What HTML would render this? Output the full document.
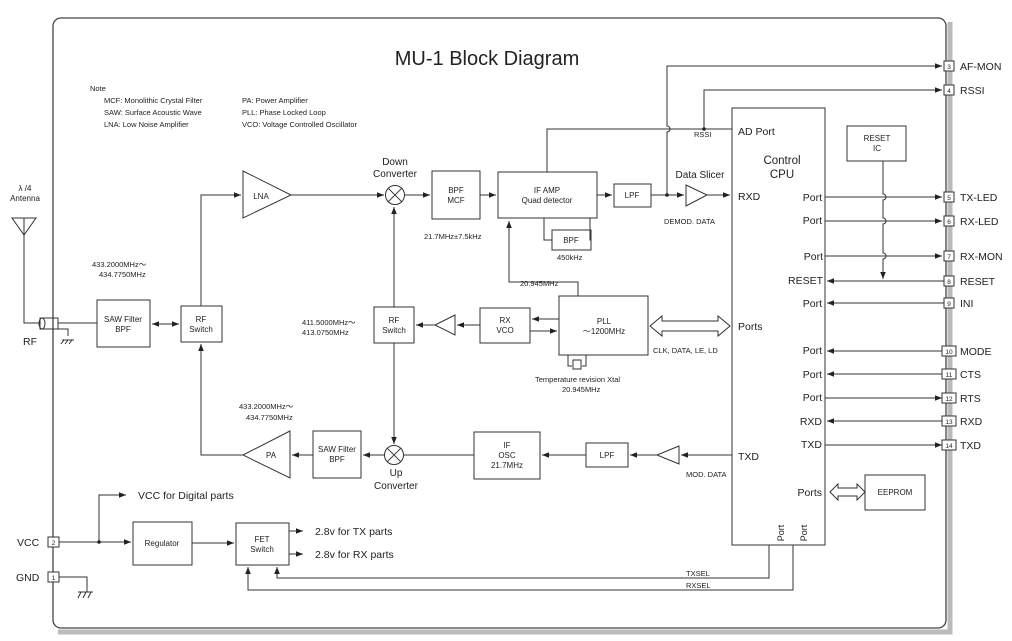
<!DOCTYPE html>
<html><head><meta charset="utf-8"><style>
html,body{margin:0;padding:0;background:#fff}
svg{display:block}
text{font-family:"Liberation Sans",sans-serif;fill:#222}
</style></head><body>
<svg width="1012" height="641" viewBox="0 0 1012 641" xmlns="http://www.w3.org/2000/svg">
<defs>
<marker id="a" viewBox="0 0 10 10" refX="10" refY="5" markerWidth="7" markerHeight="7" orient="auto-start-reverse"><path d="M0,1L10,5L0,9z" fill="#222"/></marker>
</defs>
<rect width="1012" height="641" fill="#fff"/>
<path d="M58,632 L950,632 L950,22" stroke="#bbb" stroke-width="5" fill="none"/>
<rect x="53" y="18" width="893" height="610" rx="8" fill="#fff" stroke="#444" stroke-width="1.3"/>
<g stroke="#333" stroke-width="1" fill="none">
<path d="M12,218 L36,218 L24,235 Z M24,218 V323 H40"/>
<rect x="40" y="318" width="18" height="11"/><ellipse cx="42" cy="323.5" rx="3" ry="5.5"/>
<path d="M58,323 H97 M58,329 H68 V336 M64,340 l-3,4 M68,340 l-3,4 M72,340 l-3,4 M62,340 H74"/>
<rect x="97" y="300" width="53" height="47"/>
<rect x="181" y="306" width="41" height="36"/>
<path d="M152,324 H179" marker-start="url(#a)" marker-end="url(#a)"/>
<path d="M201,306 V195 H241" marker-end="url(#a)"/>
<path d="M243,171 L291,195 L243,218 Z"/>
<path d="M291,195 H384" marker-end="url(#a)"/>
<circle cx="395" cy="195" r="9.5"/><path d="M388.3,188.3 l13.4,13.4 M401.7,188.3 l-13.4,13.4"/>
<path d="M405,195 H430" marker-end="url(#a)"/>
<rect x="432" y="171" width="48" height="48"/>
<path d="M480,195 H496" marker-end="url(#a)"/>
<rect x="498" y="172" width="99" height="46"/>
<path d="M544,218 V240 H552 M591,240 H590 V218"/>
<rect x="552" y="230" width="39" height="20"/>
<path d="M597,195 H612" marker-end="url(#a)"/>
<rect x="614" y="184" width="37" height="23"/>
<path d="M651,195 H684" marker-end="url(#a)"/>
<path d="M686,185 L707,195 L686,206 Z"/>
<path d="M707,195 H730" marker-end="url(#a)"/>
<path d="M667,195 V132 a3,3 0 0 0 0,-6 V66 H942" marker-end="url(#a)"/>
<path d="M547,172 V129 H732"/>
<path d="M704,129 V90 H942" marker-end="url(#a)"/>
<rect x="732" y="108" width="93" height="437"/>
<rect x="847" y="126" width="59" height="35"/>
<path d="M883,161 V194 a3,3 0 0 1 0,6 V218 a3,3 0 0 1 0,6 V253 a3,3 0 0 1 0,6 V279" marker-end="url(#a)"/>
<path d="M825,197 H942" marker-end="url(#a)"/>
<path d="M825,221 H942" marker-end="url(#a)"/>
<path d="M825,256 H942" marker-end="url(#a)"/>
<path d="M944,281 H827" marker-end="url(#a)"/>
<path d="M944,303 H827" marker-end="url(#a)"/>
<path d="M944,351 H827" marker-end="url(#a)"/>
<path d="M944,374 H827" marker-end="url(#a)"/>
<path d="M825,398 H942" marker-end="url(#a)"/>
<path d="M944,421 H827" marker-end="url(#a)"/>
<path d="M825,445 H942" marker-end="url(#a)"/>
<rect x="865" y="475" width="60" height="35"/>
<path d="M830,492 L838,484 V488 H857 V484 L865,492 L857,500 V496 H838 V500 Z"/>
<rect x="559" y="296" width="89" height="59"/>
<path d="M650,326 L662,316 V321 H718 V316 L730,326 L718,336 V331 H662 V336 Z"/>
<path d="M578,296 V282 H509 V221" marker-end="url(#a)"/>
<rect x="480" y="308" width="50" height="35"/>
<path d="M559,319 H532" marker-end="url(#a)"/>
<path d="M530,331 H557" marker-end="url(#a)"/>
<path d="M480,325 H457" marker-end="url(#a)"/>
<path d="M455,315 L435,325 L455,335 Z"/>
<path d="M435,325 H416" marker-end="url(#a)"/>
<rect x="374" y="307" width="40" height="36"/>
<path d="M394,307 V207" marker-end="url(#a)"/>
<path d="M568,355 V366 H572 M582,366 H586 V355"/><rect x="573" y="360" width="8" height="9"/>
<path d="M394,343 V444" marker-end="url(#a)"/>
<circle cx="394" cy="455" r="9.5"/><path d="M387.3,448.3 l13.4,13.4 M400.7,448.3 l-13.4,13.4"/>
<rect x="474" y="432" width="66" height="47"/>
<rect x="586" y="443" width="42" height="24"/>
<path d="M679,446 L657,455 L679,464 Z"/>
<path d="M732,455 H681" marker-end="url(#a)"/>
<path d="M657,455 H630" marker-end="url(#a)"/>
<path d="M586,455 H542" marker-end="url(#a)"/>
<path d="M474,455 H404"/>
<path d="M384,455 H363" marker-end="url(#a)"/>
<rect x="313" y="431" width="48" height="47"/>
<path d="M313,455 H292" marker-end="url(#a)"/>
<path d="M290,431 L243,455 L290,478 Z"/>
<path d="M243,455 H201 V344" marker-end="url(#a)"/>
<path d="M59,542 H131" marker-end="url(#a)"/>
<path d="M99,542 V495 H126" marker-end="url(#a)"/>
<rect x="133" y="522" width="59" height="43"/>
<path d="M192,543 H234" marker-end="url(#a)"/>
<rect x="236" y="523" width="53" height="42"/>
<path d="M289,531 H303" marker-end="url(#a)"/>
<path d="M289,554 H303" marker-end="url(#a)"/>
<path d="M769,545 V578 H277 V567" marker-end="url(#a)"/>
<path d="M793,545 V590 H248 V567" marker-end="url(#a)"/>
<path d="M59,577 H87 V592 M78,598 l3,-6 M83,598 l3,-6 M88,598 l3,-6 M78,592 H93"/>
</g>
<circle cx="99" cy="542" r="1.8" fill="#222"/>
<circle cx="667" cy="195" r="1.8" fill="#222"/>
<circle cx="704" cy="129" r="1.8" fill="#222"/>
<g stroke="#333" fill="#fff" stroke-width="1">
<rect x="944" y="61" width="10" height="10"/><rect x="944" y="85" width="10" height="10"/>
<rect x="944" y="192" width="10" height="10"/><rect x="944" y="216" width="10" height="10"/>
<rect x="944" y="251" width="10" height="10"/><rect x="944" y="276" width="10" height="10"/>
<rect x="944" y="298" width="10" height="10"/><rect x="942" y="346" width="14" height="10"/>
<rect x="942" y="369" width="14" height="10"/><rect x="942" y="393" width="14" height="10"/>
<rect x="942" y="416" width="14" height="10"/><rect x="942" y="440" width="14" height="10"/>
<rect x="48" y="537" width="11" height="10"/><rect x="48" y="572" width="11" height="10"/>
</g>
<g font-size="6.5" text-anchor="middle">
<text x="949" y="69">3</text><text x="949" y="93">4</text><text x="949" y="200">5</text><text x="949" y="224">6</text>
<text x="949" y="259">7</text><text x="949" y="284">8</text><text x="949" y="306">9</text><text x="949" y="354">10</text>
<text x="949" y="377">11</text><text x="949" y="401">12</text><text x="949" y="424">13</text><text x="949" y="448">14</text>
<text x="53.5" y="545">2</text><text x="53.5" y="580">1</text>
</g>
<g font-size="10.5">
<text x="960" y="70">AF-MON</text><text x="960" y="94">RSSI</text><text x="960" y="201">TX-LED</text><text x="960" y="225">RX-LED</text>
<text x="960" y="260">RX-MON</text><text x="960" y="285">RESET</text><text x="960" y="307">INI</text><text x="960" y="355">MODE</text>
<text x="960" y="378">CTS</text><text x="960" y="402">RTS</text><text x="960" y="425">RXD</text><text x="960" y="449">TXD</text>
<text x="17" y="546">VCC</text><text x="16" y="581">GND</text><text x="23" y="345">RF</text>
<text x="138" y="499">VCC for Digital parts</text>
<text x="315" y="535">2.8v for TX parts</text><text x="315" y="558">2.8v for RX parts</text>
<text x="738" y="135">AD Port</text><text x="738" y="200">RXD</text><text x="738" y="330">Ports</text><text x="738" y="460">TXD</text>
</g>
<g font-size="10.5" text-anchor="end">
<text x="822" y="201">Port</text><text x="822" y="224">Port</text><text x="823" y="260">Port</text><text x="823" y="284">RESET</text>
<text x="822" y="307">Port</text><text x="822" y="354">Port</text><text x="822" y="378">Port</text><text x="822" y="401">Port</text>
<text x="822" y="425">RXD</text><text x="822" y="448">TXD</text><text x="822" y="496">Ports</text>
</g>
<text x="771" y="540" font-size="9" transform="rotate(-90 774 530)" text-anchor="middle">Port</text>
<text x="794" y="540" font-size="9" transform="rotate(-90 797 530)" text-anchor="middle">Port</text>
<text x="487" y="65" font-size="20" text-anchor="middle">MU-1 Block Diagram</text>
<text x="782" y="164" font-size="11.5" text-anchor="middle">Control</text>
<text x="782" y="178" font-size="11.5" text-anchor="middle">CPU</text>
<g font-size="7.5">
<text x="90" y="91">Note</text>
<text x="104" y="103">MCF: Monolithic Crystal Filter</text>
<text x="104" y="115">SAW: Surface Acoustic Wave</text>
<text x="104" y="127">LNA: Low Noise Amplifier</text>
<text x="242" y="103">PA: Power Amplifier</text>
<text x="242" y="115">PLL: Phase Locked Loop</text>
<text x="242" y="127">VCO: Voltage Controlled Oscillator</text>
<text x="92" y="267">433.2000MHz～</text><text x="99" y="277">434.7750MHz</text>
<text x="302" y="325">411.5000MHz～</text><text x="302" y="335">413.0750MHz</text>
<text x="239" y="409">433.2000MHz～</text><text x="246" y="420">434.7750MHz</text>
<text x="424" y="239">21.7MHz±7.5kHz</text>
<text x="557" y="260">450kHz</text>
<text x="520" y="286">20.945MHz</text>
<text x="653" y="353">CLK, DATA, LE, LD</text>
<text x="535" y="382">Temperature revision Xtal</text>
<text x="562" y="392">20.945MHz</text>
<text x="664" y="224">DEMOD. DATA</text>
<text x="694" y="137">RSSI</text>
<text x="686" y="477">MOD. DATA</text>
<text x="686" y="576">TXSEL</text><text x="686" y="588">RXSEL</text>
</g>
<g font-size="8" text-anchor="middle">
<text x="123" y="322">SAW Filter</text><text x="123" y="332">BPF</text>
<text x="201" y="322">RF</text><text x="201" y="332">Switch</text>
<text x="261" y="199">LNA</text>
<text x="456" y="193">BPF</text><text x="456" y="203">MCF</text>
<text x="547" y="193">IF AMP</text><text x="547" y="203">Quad detector</text>
<text x="571" y="243">BPF</text>
<text x="632" y="198">LPF</text>
<text x="877" y="141">RESET</text><text x="877" y="151">IC</text>
<text x="895" y="495">EEPROM</text>
<text x="604" y="324">PLL</text><text x="604" y="334">～1200MHz</text>
<text x="505" y="323">RX</text><text x="505" y="333">VCO</text>
<text x="394" y="323">RF</text><text x="394" y="333">Switch</text>
<text x="507" y="448">IF</text><text x="507" y="458">OSC</text><text x="507" y="468">21.7MHz</text>
<text x="607" y="458">LPF</text>
<text x="337" y="452">SAW Filter</text><text x="337" y="462">BPF</text>
<text x="271" y="458">PA</text>
<text x="162" y="546">Regulator</text>
<text x="262" y="542">FET</text><text x="262" y="552">Switch</text>
<text x="25" y="191">λ /4</text><text x="25" y="201">Antenna</text>
</g>
<g font-size="10" text-anchor="middle">
<text x="395" y="165">Down</text><text x="395" y="177">Converter</text>
<text x="396" y="476">Up</text><text x="396" y="489">Converter</text>
<text x="700" y="178">Data Slicer</text>
</g>
</svg>
</body></html>
